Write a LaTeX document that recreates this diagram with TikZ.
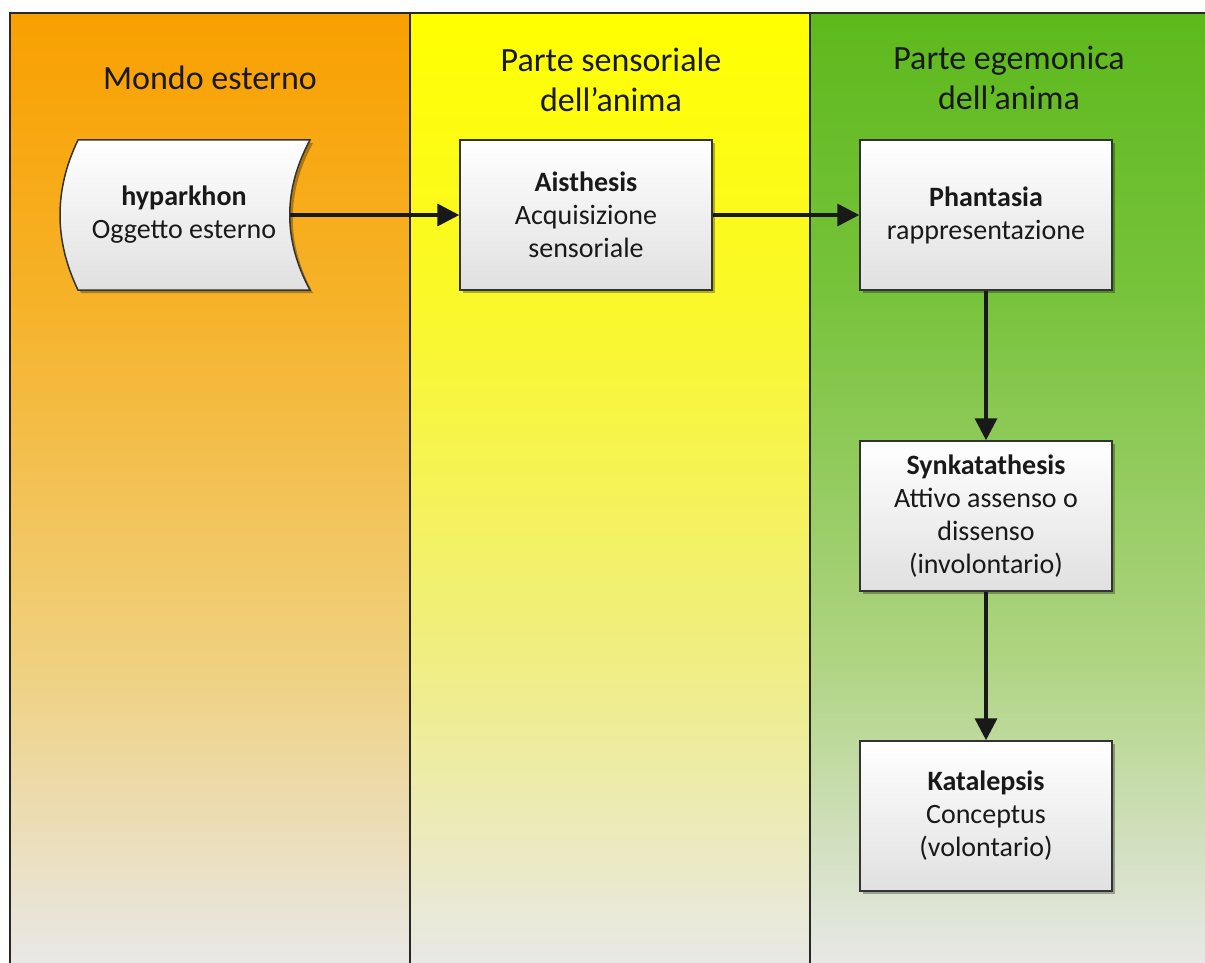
\documentclass[tikz,border=0pt]{standalone}
\usepackage{fontspec}
\setmainfont{Carlito}
\usetikzlibrary{arrows.meta,shadows}

\definecolor{lanegrey}{RGB}{232,232,230}
\definecolor{orangeA}{RGB}{249,160,0}
\definecolor{orangeB}{RGB}{246,178,40}
\definecolor{orangeC}{RGB}{240,208,125}
\definecolor{yellowA}{RGB}{255,255,0}
\definecolor{yellowB}{RGB}{250,248,40}
\definecolor{yellowC}{RGB}{240,238,130}
\definecolor{greenA}{RGB}{93,185,28}
\definecolor{greenB}{RGB}{120,195,60}
\definecolor{greenC}{RGB}{175,212,130}
\definecolor{framecol}{RGB}{40,40,40}

\pgfdeclareverticalshading{orangelane}{100bp}{color(0bp)=(lanegrey); color(25bp)=(lanegrey); color(41bp)=(orangeC); color(60bp)=(orangeB); color(75bp)=(orangeA); color(100bp)=(orangeA)}
\pgfdeclareverticalshading{yellowlane}{100bp}{color(0bp)=(lanegrey); color(25bp)=(lanegrey); color(41bp)=(yellowC); color(60bp)=(yellowB); color(75bp)=(yellowA); color(100bp)=(yellowA)}
\pgfdeclareverticalshading{greenlane}{100bp}{color(0bp)=(lanegrey); color(25bp)=(lanegrey); color(41bp)=(greenC); color(60bp)=(greenB); color(75bp)=(greenA); color(100bp)=(greenA)}

\tikzset{
    laneline/.style={draw=framecol, line width=2pt},
    lanetitle/.style={align=center, font=\fontsize{34}{40}\selectfont, text=black!90},
    procbox/.style={draw=black!80, line width=1.5pt, top color=white, bottom color=black!12,
        minimum width=252pt, minimum height=150pt, align=center, inner sep=0pt,
        font=\fontsize{28}{33}\selectfont, text=black!90,
        drop shadow={shadow xshift=3pt, shadow yshift=-3pt, opacity=.3, fill=black}},
    tapebox/.style={draw=black!80, line width=1.5pt, top color=white, bottom color=black!12,
        drop shadow={shadow xshift=3pt, shadow yshift=-3pt, opacity=.3, fill=black}},
    flow/.style={line width=3.5pt, draw=black!90, -{Triangle[length=22pt,width=22pt]}}
}

\begin{document}
\begin{tikzpicture}[x=1pt, y=-1pt]
                \useasboundingbox (0,0) rectangle (1205,963);
                \fill[white] (0,0) rectangle (1205,963);
                % lanes
                \shade[shading=orangelane] (10,13) rectangle (410,963);
                \shade[shading=yellowlane] (410,13) rectangle (810,963);
                \shade[shading=greenlane] (810,13) rectangle (1210,963);
                \draw[laneline] (10,963) -- (10,13) -- (1210,13);
                \draw[laneline] (410,13) -- (410,963);
                \draw[laneline] (810,13) -- (810,963);
                \node[lanetitle] (mondo) at (210,78) {Mondo esterno};
                \node[lanetitle] (sens) at (611,80) {Parte sensoriale\\dell’anima};
                \node[lanetitle] (egem) at (1009,78) {Parte egemonica\\dell’anima};
                % external object
                \coordinate (TL) at (78,140);
                \coordinate (TR) at (310,140);
                \coordinate (BR) at (310,290);
                \coordinate (BL) at (78,290);
                \coordinate (hypout) at (290,215);
                \draw[tapebox] (TL) -- (TR) .. controls (283,190) and (283,240) .. (BR)
                    -- (BL) .. controls (54,240) and (54,190) .. (TL) -- cycle;
                \node[align=center, font=\fontsize{28}{33}\selectfont, text=black!90] (hyp) at (184,215)
                    {\textbf{hyparkhon}\\Oggetto esterno};
                % process boxes
                \node[procbox] (aist) at (586,215) {\textbf{Aisthesis}\\Acquisizione\\sensoriale};
                \node[procbox] (phan) at (986,215) {\textbf{Phantasia}\\rappresentazione};
                \node[procbox] (synk) at (986,516)
                    {\textbf{Synkatathesis}\\Attivo assenso o\\dissenso\\(involontario)};
                \node[procbox] (kata) at (986,816) {\textbf{Katalepsis}\\Conceptus\\(volontario)};
                \draw[flow] (hypout) -- (aist);
                \draw[flow] (aist) -- (phan);
                \draw[flow] (phan) -- (synk);
                \draw[flow] (synk) -- (kata);
            \end{tikzpicture}
\end{document}
